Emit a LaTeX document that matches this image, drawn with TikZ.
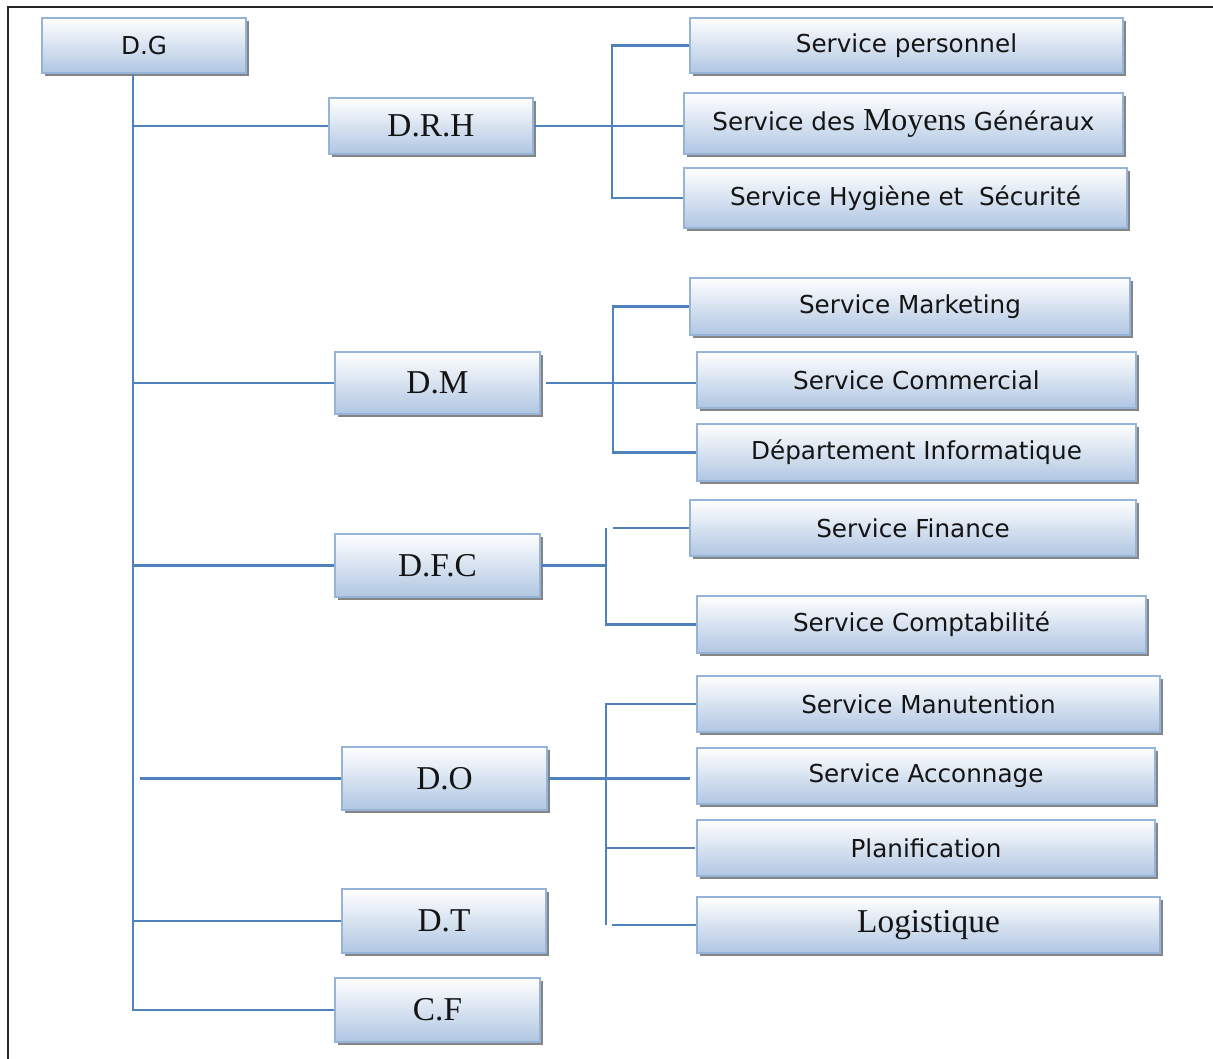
\documentclass[tikz,border=0pt]{standalone}
\usepackage{fontspec}
\setmainfont{DejaVu Sans}
\newfontfamily\serf{Liberation Serif}
\usetikzlibrary{shadows}
\definecolor{linec}{RGB}{79,129,189}
\definecolor{boxline}{RGB}{150,180,215}
\definecolor{boxbot}{RGB}{176,198,226}
\definecolor{shad}{RGB}{120,120,120}
\definecolor{txt}{RGB}{20,20,20}
\tikzset{
  orgbox/.style={draw=boxline, line width=1.3pt, top color=white, bottom color=boxbot,
    drop shadow={shadow xshift=2.2pt, shadow yshift=-2.6pt, fill=shad, opacity=0.9},
    inner sep=0pt, text=txt, font=\fontsize{18.5}{20}\selectfont},
  serifbox/.style={orgbox, font=\serf\fontsize{25}{27}\selectfont},
  conn/.style={draw=linec, line width=1.6pt}
}
\newcommand{\bx}[7][orgbox]{\node[#1, minimum width=#5*0.75pt, minimum height=#6*0.75pt] (#2) at (#3,#4) {#7};}
\begin{document}
\begin{tikzpicture}[x=0.75pt,y=-0.75pt]
\useasboundingbox (0,0) rectangle (1213,1059);
\fill[white] (0,0) rectangle (1213,1059);
\draw[line width=2pt, black!85] (8,1059) -- (8,7) -- (1213,7);

\bx{dg}{144}{45.5}{204}{55}{D.G}
\bx[serifbox]{drh}{431}{126}{204}{56}{D.R.H}
\bx{sp}{906.5}{45.5}{433}{55}{Service personnel}
\bx{smg}{903.5}{123.5}{439}{61}{Service des {\serf\fontsize{24}{26}\selectfont Moyens} Généraux}
\bx{shs}{905.5}{198}{443}{60}{Service Hygiène et\ \ Sécurité}
\bx[serifbox]{dm}{437.5}{383}{205}{62}{D.M}
\bx{smk}{910}{306.5}{440}{57}{Service Marketing}
\bx{sc}{916.5}{380}{439}{56}{Service Commercial}
\bx{di}{916.5}{452.5}{439}{57}{Département Informatique}
\bx[serifbox]{dfc}{437.5}{565.5}{205}{63}{D.F.C}
\bx{sf}{913}{528}{446}{56}{Service Finance}
\bx{scp}{921.5}{624.5}{449}{57}{Service Comptabilité}
\bx[serifbox]{do}{444.5}{778.5}{205}{63}{D.O}
\bx{sm}{928.5}{704}{463}{56}{Service Manutention}
\bx{sa}{926}{776}{458}{56}{Service Acconnage}
\bx{pl}{926}{848}{458}{56}{Planification}
\bx[serifbox]{lg}{928.5}{925}{463}{56}{Logistique}
\bx[serifbox]{dt}{444}{921}{204}{64}{D.T}
\bx[serifbox]{cf}{437.5}{1010}{205}{64}{C.F}

% trunk
\coordinate (tr) at (133,0);
\coordinate (tr2) at (140,0);
\draw[conn] (tr |- dg.south) -- (tr |- cf.west) -- (cf.west);
\draw[conn] (tr |- drh.west) -- (drh.west);
\draw[conn] (tr |- dm.west) -- (dm.west);
\draw[conn] (tr |- dfc.west) -- (dfc.west);
\draw[conn] (tr2 |- do.west) -- (do.west);
\draw[conn] (tr |- dt.west) -- (dt.west);

% D.R.H group
\coordinate (b1) at (612,0);
\draw[conn] (drh.east) -- (drh.east -| smg.west);
\draw[conn] (sp.west) -- (b1 |- sp.west) -- (b1 |- shs.west) -- (shs.west);

% D.M group
\coordinate (b2) at (613,0);
\coordinate (d2) at (546,0);
\draw[conn] (d2 |- dm.east) -- (dm.east -| sc.west);
\draw[conn] (smk.west) -- (b2 |- smk.west) -- (b2 |- di.west) -- (di.west);

% D.F.C group
\coordinate (b3) at (606,0);
\coordinate (b3b) at (613,0);
\draw[conn] (dfc.east) -- (b3 |- dfc.east);
\draw[conn] (b3b |- sf.west) -- (sf.west);
\draw[conn] (b3 |- sf.west) -- (b3 |- scp.west) -- (scp.west);

% D.O group
\coordinate (b4) at (606,0);
\coordinate (b4b) at (612,0);
\coordinate (e4) at (690,0);
\coordinate (e5) at (695,0);
\draw[conn] (do.east) -- (e4 |- do.east);
\draw[conn] (sm.west) -- (b4 |- sm.west) -- (b4 |- lg.west);
\draw[conn] (b4 |- pl.west) -- (e5 |- pl.west);
\draw[conn] (b4b |- lg.west) -- (lg.west);
\end{tikzpicture}
\end{document}
